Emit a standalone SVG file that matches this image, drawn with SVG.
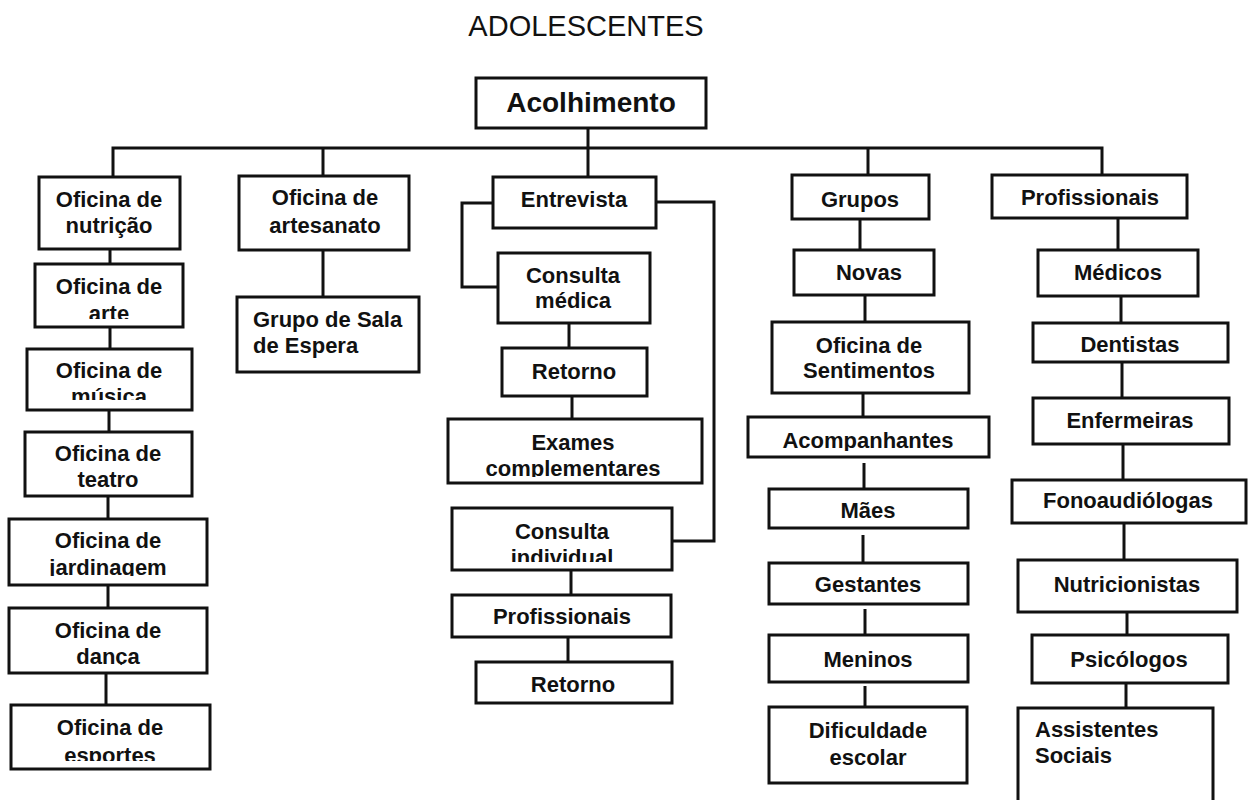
<svg xmlns="http://www.w3.org/2000/svg" width="1248" height="800" viewBox="0 0 1248 800">
<style>
.box{fill:#fff;stroke:#111;stroke-width:3}
.t{font-family:"Liberation Sans",Arial,Helvetica,sans-serif;font-weight:bold;font-size:22px;text-anchor:middle;fill:#111}
.l{text-anchor:start}
.c{fill:none;stroke:#111;stroke-width:3}
.title{font-family:"Liberation Sans",Arial,Helvetica,sans-serif;font-size:29px;text-anchor:middle;fill:#111}
</style>
<defs>
<clipPath id="cArte"><rect x="35" y="264" width="148" height="55"/></clipPath>
<clipPath id="cMusica"><rect x="27" y="349" width="165" height="51"/></clipPath>
<clipPath id="cTeatro"><rect x="25" y="432" width="167" height="57"/></clipPath>
<clipPath id="cJard"><rect x="9" y="519" width="198" height="57"/></clipPath>
<clipPath id="cDanca"><rect x="9" y="608" width="198" height="57"/></clipPath>
<clipPath id="cEsp"><rect x="11" y="705" width="199" height="56"/></clipPath>
<clipPath id="cExames"><rect x="448" y="419" width="254" height="58"/></clipPath>
<clipPath id="cIndiv"><rect x="452" y="508" width="220" height="54"/></clipPath>
<clipPath id="cAcomp"><rect x="748" y="417" width="241" height="34"/></clipPath>
</defs>
<rect width="1248" height="800" fill="#fff"/>
<text class="title" x="586" y="36">ADOLESCENTES</text>

<g id="connectors">
<path class="c" d="M113,178 V148 H1102 V177"/>
<path class="c" d="M323,148 V177"/>
<path class="c" d="M588,128 V177"/>
<path class="c" d="M868,148 V176"/>
<path class="c" d="M110,249 V264"/>
<path class="c" d="M110,327 V349"/>
<path class="c" d="M109,410 V432"/>
<path class="c" d="M108,496 V519"/>
<path class="c" d="M108,585 V608"/>
<path class="c" d="M106,673 V705"/>
<path class="c" d="M323,250 V297"/>
<path class="c" d="M493,203 H462 V287 H498"/>
<path class="c" d="M656,202 H714 V541 H672"/>
<path class="c" d="M569,323 V348"/>
<path class="c" d="M572,396 V420"/>
<path class="c" d="M571,570 V595"/>
<path class="c" d="M568,637 V662"/>
<path class="c" d="M860,219 V250"/>
<path class="c" d="M865,295 V322"/>
<path class="c" d="M863,393 V417"/>
<path class="c" d="M864,463 V489"/>
<path class="c" d="M863,535 V563"/>
<path class="c" d="M865,609 V635"/>
<path class="c" d="M865,686 V707"/>
<path class="c" d="M1118,218 V250"/>
<path class="c" d="M1121,296 V323"/>
<path class="c" d="M1122,362 V398"/>
<path class="c" d="M1123,444 V480"/>
<path class="c" d="M1124,523 V560"/>
<path class="c" d="M1127,612 V635"/>
<path class="c" d="M1126,683 V708"/>
</g>

<g id="acolhimento">
<rect class="box" x="476" y="78" width="230" height="50"/>
<text class="t" x="591" y="112" style="font-size:28px">Acolhimento</text>
</g>

<g id="of-nutricao">
<rect class="box" x="39" y="177" width="141" height="72"/>
<text class="t" x="109" y="207">Oficina de</text>
<text class="t" x="109" y="233">nutrição</text>
</g>
<g id="of-arte">
<rect class="box" x="35" y="264" width="148" height="63"/>
<g clip-path="url(#cArte)">
<text class="t" x="109" y="294">Oficina de</text>
<text class="t" x="109" y="321">arte</text>
</g>
</g>
<g id="of-musica">
<rect class="box" x="27" y="349" width="165" height="61"/>
<g clip-path="url(#cMusica)">
<text class="t" x="109" y="378">Oficina de</text>
<text class="t" x="109" y="404">música</text>
</g>
</g>
<g id="of-teatro">
<rect class="box" x="25" y="432" width="167" height="64"/>
<g clip-path="url(#cTeatro)">
<text class="t" x="108" y="461">Oficina de</text>
<text class="t" x="108" y="487">teatro</text>
</g>
</g>
<g id="of-jardinagem">
<rect class="box" x="9" y="519" width="198" height="66"/>
<g clip-path="url(#cJard)">
<text class="t" x="108" y="548">Oficina de</text>
<text class="t" x="108" y="575">jardinagem</text>
</g>
</g>
<g id="of-danca">
<rect class="box" x="9" y="608" width="198" height="65"/>
<g clip-path="url(#cDanca)">
<text class="t" x="108" y="638">Oficina de</text>
<text class="t" x="108" y="664">dança</text>
</g>
</g>
<g id="of-esportes">
<rect class="box" x="11" y="705" width="199" height="64"/>
<g clip-path="url(#cEsp)">
<text class="t" x="110" y="735">Oficina de</text>
<text class="t" x="110" y="763">esportes</text>
</g>
</g>

<g id="of-artesanato">
<rect class="box" x="239" y="176" width="170" height="74"/>
<text class="t" x="325" y="205">Oficina de</text>
<text class="t" x="325" y="233">artesanato</text>
</g>
<g id="grupo-sala">
<rect class="box" x="237" y="297" width="182" height="75"/>
<text class="t l" x="253" y="327">Grupo de Sala</text>
<text class="t l" x="253" y="353">de Espera</text>
</g>

<g id="entrevista">
<rect class="box" x="493" y="177" width="163" height="51"/>
<text class="t" x="574" y="207">Entrevista</text>
</g>
<g id="consulta-medica">
<rect class="box" x="498" y="253" width="152" height="70"/>
<text class="t" x="573" y="283">Consulta</text>
<text class="t" x="573" y="308">médica</text>
</g>
<g id="retorno1">
<rect class="box" x="502" y="348" width="145" height="48"/>
<text class="t" x="574" y="379">Retorno</text>
</g>
<g id="exames">
<rect class="box" x="448" y="419" width="254" height="64"/>
<g clip-path="url(#cExames)">
<text class="t" x="573" y="450">Exames</text>
<text class="t" x="573" y="476">complementares</text>
</g>
</g>
<g id="consulta-individual">
<rect class="box" x="452" y="508" width="220" height="62"/>
<g clip-path="url(#cIndiv)">
<text class="t" x="562" y="539">Consulta</text>
<text class="t" x="562" y="565">individual</text>
</g>
</g>
<g id="profissionais-ent">
<rect class="box" x="452" y="595" width="219" height="42"/>
<text class="t" x="562" y="624">Profissionais</text>
</g>
<g id="retorno2">
<rect class="box" x="476" y="662" width="196" height="41"/>
<text class="t" x="573" y="692">Retorno</text>
</g>

<g id="grupos">
<rect class="box" x="792" y="175" width="137" height="44"/>
<text class="t" x="860" y="207">Grupos</text>
</g>
<g id="novas">
<rect class="box" x="794" y="250" width="140" height="45"/>
<text class="t" x="869" y="280">Novas</text>
</g>
<g id="of-sentimentos">
<rect class="box" x="772" y="322" width="197" height="71"/>
<text class="t" x="869" y="353">Oficina de</text>
<text class="t" x="869" y="378">Sentimentos</text>
</g>
<g id="acompanhantes">
<rect class="box" x="748" y="417" width="241" height="40"/>
<g clip-path="url(#cAcomp)">
<text class="t" x="868" y="448">Acompanhantes</text>
</g>
</g>
<g id="maes">
<rect class="box" x="769" y="489" width="199" height="39"/>
<text class="t" x="868" y="518">Mães</text>
</g>
<g id="gestantes">
<rect class="box" x="769" y="563" width="199" height="41"/>
<text class="t" x="868" y="592">Gestantes</text>
</g>
<g id="meninos">
<rect class="box" x="769" y="635" width="199" height="47"/>
<text class="t" x="868" y="667">Meninos</text>
</g>
<g id="dificuldade">
<rect class="box" x="769" y="707" width="198" height="76"/>
<text class="t" x="868" y="738">Dificuldade</text>
<text class="t" x="868" y="765">escolar</text>
</g>

<g id="profissionais">
<rect class="box" x="992" y="175" width="195" height="43"/>
<text class="t" x="1090" y="205">Profissionais</text>
</g>
<g id="medicos">
<rect class="box" x="1038" y="250" width="160" height="46"/>
<text class="t" x="1118" y="280">Médicos</text>
</g>
<g id="dentistas">
<rect class="box" x="1033" y="323" width="195" height="39"/>
<text class="t" x="1130" y="352">Dentistas</text>
</g>
<g id="enfermeiras">
<rect class="box" x="1033" y="398" width="196" height="46"/>
<text class="t" x="1130" y="428">Enfermeiras</text>
</g>
<g id="fonoaudiologas">
<rect class="box" x="1012" y="480" width="234" height="43"/>
<text class="t" x="1128" y="508">Fonoaudiólogas</text>
</g>
<g id="nutricionistas">
<rect class="box" x="1018" y="560" width="219" height="52"/>
<text class="t" x="1127" y="592">Nutricionistas</text>
</g>
<g id="psicologos">
<rect class="box" x="1032" y="635" width="196" height="48"/>
<text class="t" x="1129" y="667">Psicólogos</text>
</g>
<g id="assistentes">
<rect class="box" x="1018" y="708" width="195" height="110"/>
<text class="t l" x="1035" y="737">Assistentes</text>
<text class="t l" x="1035" y="763">Sociais</text>
</g>
</svg>
